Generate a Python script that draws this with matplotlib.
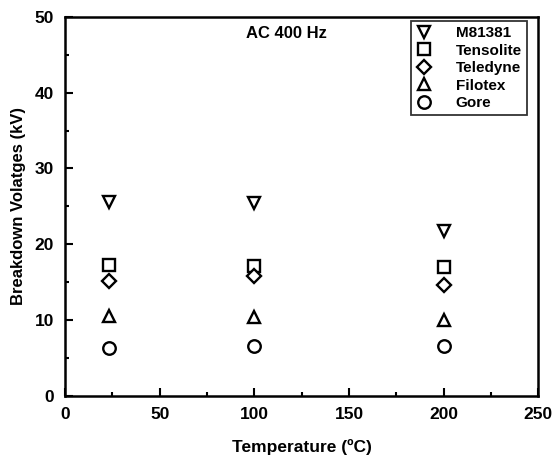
import matplotlib
matplotlib.use("Agg")
import matplotlib.pyplot as plt
from matplotlib.ticker import MultipleLocator

plt.rcParams['font.family'] = ['Liberation Sans', 'DejaVu Sans']
plt.rcParams['font.weight'] = 'bold'

temps = [23, 100, 200]
series_names = ['M81381', 'Tensolite', 'Teledyne', 'Filotex', 'Gore']
m81381 = [25.6, 25.4, 21.8]
tensolite = [17.2, 17.1, 17.0]
teledyne = [15.2, 15.8, 14.6]
filotex = [10.5, 10.4, 10.0]
gore = [6.3, 6.6, 6.6]

values = [m81381, tensolite, teledyne, filotex, gore]
markers = ['v', 's', 'D', '^', 'o']
sizes = [9, 8, 7, 9, 9]

fig = plt.figure(figsize=(5.52, 4.57), dpi=100)
ax = fig.add_axes([0.118, 0.134, 0.857, 0.829])

for name, vals, m, s in zip(series_names, values, markers, sizes):
    ax.plot(temps, vals, linestyle='none', marker=m, markersize=s,
            markerfacecolor='white', markeredgecolor='black',
            markeredgewidth=1.7, label=name)

ax.set_xlim(0, 250)
ax.set_ylim(0, 50)
ax.xaxis.set_major_locator(MultipleLocator(50))
ax.xaxis.set_minor_locator(MultipleLocator(25))
ax.yaxis.set_major_locator(MultipleLocator(10))
ax.yaxis.set_minor_locator(MultipleLocator(5))
ax.tick_params(which='both', direction='in', width=1.5, labelsize=12.5)
ax.tick_params(which='major', length=6, pad=8)
ax.tick_params(which='minor', length=3)
for sp in ax.spines.values():
    sp.set_linewidth(1.8)
for lbl in ax.get_xticklabels() + ax.get_yticklabels():
    lbl.set_fontweight('bold')

ax.set_xlabel('Temperature (\u00baC)', fontsize=12.5, fontweight='bold', labelpad=12)
ax.set_ylabel('Breakdown Volatges (kV)', fontsize=12, fontweight='bold', labelpad=6)
ax.text(117, 47.8, 'AC 400 Hz', fontsize=12, fontweight='bold', ha='center', va='center')

leg = ax.legend(loc='upper right', bbox_to_anchor=(0.977, 0.989), fontsize=11,
                frameon=True, fancybox=False, edgecolor='black',
                handletextpad=1.6, labelspacing=0.22, borderpad=0.35,
                handlelength=1.0, borderaxespad=0)
leg.get_frame().set_linewidth(1.3)
for t in leg.get_texts():
    t.set_fontweight('bold')

fig.savefig('out.png', dpi=100)
